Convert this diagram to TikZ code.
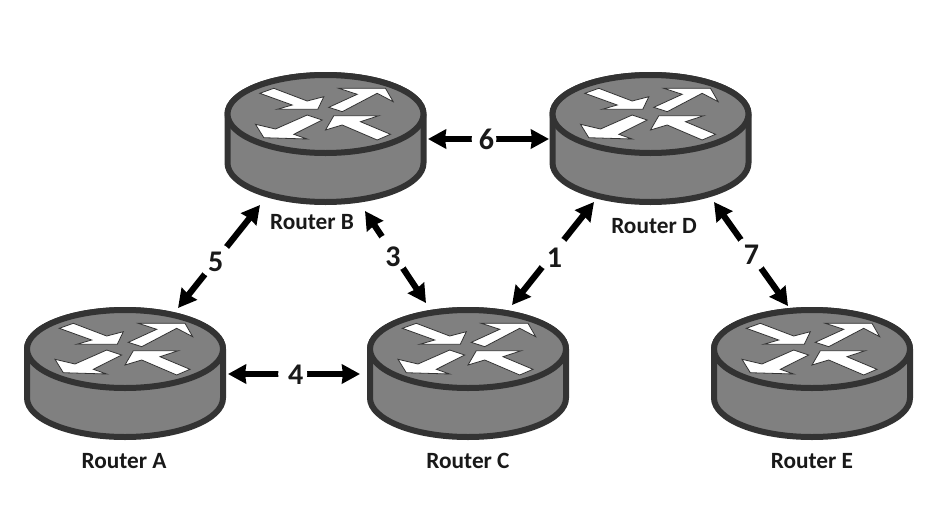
\documentclass[tikz,border=0pt]{standalone}
\usepackage{fontspec}
\setmainfont{Carlito}
\usetikzlibrary{arrows.meta}
\definecolor{rstroke}{HTML}{333333}
\definecolor{rfill}{HTML}{808080}
\tikzset{
  x=1pt,y=-1pt,
  routerbody/.style={fill=rfill,draw=rstroke,line width=6pt,line join=round},
  routerarrow/.style={fill=white,draw=rstroke,line width=0.8pt,line join=miter},
  routerbox/.style={minimum width=206pt,minimum height=136pt,inner sep=0pt,outer sep=0pt},
  routername/.style={font=\fontsize{23.3pt}{25pt}\selectfont\bfseries,text=black!90,inner sep=0pt},
  linklabel/.style={font=\fontsize{30pt}{32pt}\selectfont\bfseries,text=black!90,fill=white,circle,inner sep=0pt,minimum size=#1},
  linklabel/.default=35pt,
  link/.style={line width=6.2pt,black,{Stealth[length=18pt,width=19pt,inset=1pt]}-{Stealth[length=18pt,width=19pt,inset=1pt]},shorten <=0pt,shorten >=0pt},
}
\newcommand{\lab}[2]{\smash{\raisebox{-#2pt}{#1}}}
\newcommand{\routershape}[3]{%
  \node[routerbox] (#1) at (#2,#3) {};
  \begin{scope}[shift={(#2,#3)}]
    \path[routerbody] (-98,-25) arc[start angle=180,end angle=360,x radius=98,y radius=39]
      -- (98,24) arc[start angle=0,end angle=180,x radius=98,y radius=39] -- cycle;
    \path[routerbody] (0,-25) ellipse[x radius=98,y radius=39];
    \path[routerarrow] (-65.7,-45.7) -- (-51.7,-50.7) -- (-18.3,-38) -- (-1.7,-42.3) -- (-7.7,-29.7) -- (-48.3,-29.7) -- (-33.3,-34) -- cycle;
    \path[routerarrow] (3.3,-31.7) -- (31.7,-44.7) -- (13.3,-50.7) -- (60,-50.7) -- (67.7,-37.3) -- (51.7,-45.7) -- (16.7,-27.3) -- cycle;
    \path[routerarrow] (-70,-14.7) -- (-50,-10) -- (-18.3,-24) -- (-3.3,-19) -- (-31.7,-4.7) -- (-18.3,0) -- (-61.7,-1.3) -- cycle;
    \path[routerarrow] (0,-9) -- (8.3,-23.3) -- (53.3,-23.3) -- (35,-17.3) -- (65,-4.7) -- (51.7,1) -- (16.7,-14) -- cycle;
  \end{scope}
}
\begin{document}
\begin{tikzpicture}
\useasboundingbox (0,0) rectangle (948,517);
\routershape{ra}{125}{374}
\routershape{rb}{325.5}{139}
\routershape{rc}{468}{374}
\routershape{rd}{650.5}{139}
\routershape{re}{812}{374}
\node[routername] (na) at (124,461) {Router A};
\node[routername] (nb) at (312,222) {Router B};
\node[routername] (nc) at (468,461) {Router C};
\node[routername] (nd) at (654,226) {Router D};
\node[routername] (ne) at (812,461) {Router E};
\draw[link] ([shift={(53,-66)}]ra.center) -- node[linklabel,pos=0.46] (l5) {\lab{5}{10.5}} ([shift={(-65.5,66)}]rb.center);
\draw[link] ([shift={(103,0)}]ra.center) -- node[linklabel=29pt,pos=0.49] (l4) {\lab{\hspace{6pt}4}{10.5}} ([shift={(-108,0)}]rc.center);
\draw[link] ([shift={(39.5,72)}]rb.center) -- node[linklabel=38pt,pos=0.45] (l3) {\lab{\hspace{1pt}3}{14.5}} ([shift={(-42,-71)}]rc.center);
\draw[link] ([shift={(44,-69)}]rc.center) -- node[linklabel,pos=0.5] (l1) {\lab{\hspace{3pt}1}{14}} ([shift={(-56.5,63)}]rd.center);
\draw[link] ([shift={(102.5,0)}]rb.center) -- node[linklabel=25pt,pos=0.463] (l6) {\lab{\hspace{5pt}6}{10}} ([shift={(-101.5,0)}]rd.center);
\draw[link] ([shift={(63.5,63)}]rd.center) -- node[linklabel,pos=0.5] (l7) {\lab{\hspace{1pt}7}{10}} ([shift={(-24,-68)}]re.center);
\end{tikzpicture}
\end{document}
